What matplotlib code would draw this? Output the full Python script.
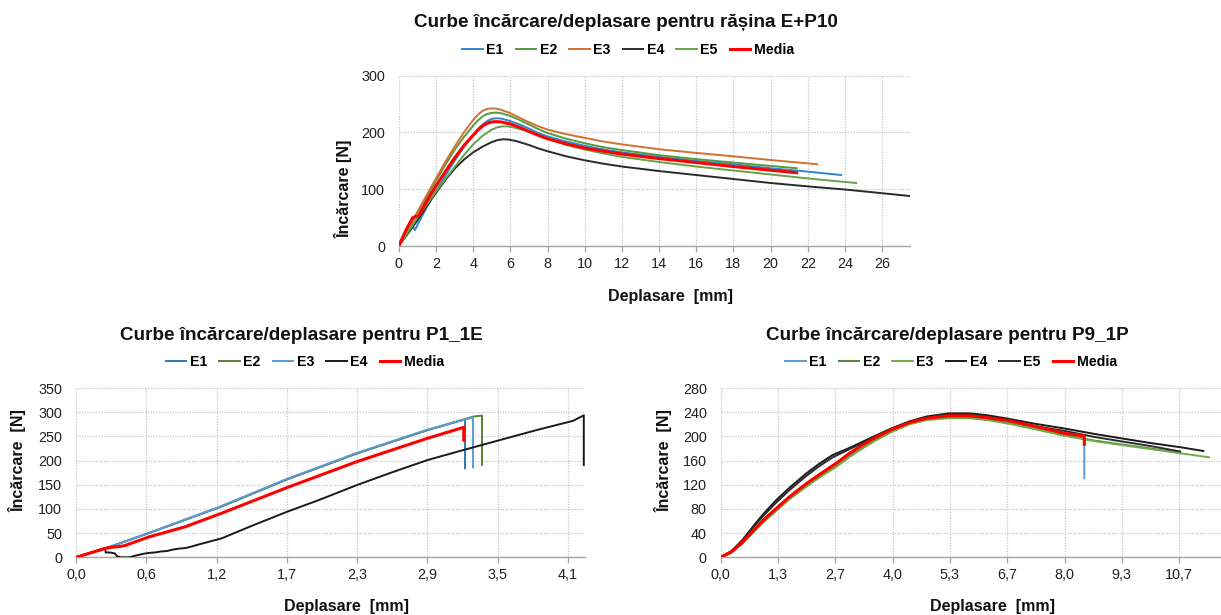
import matplotlib
matplotlib.use("Agg")
import matplotlib.pyplot as plt
from matplotlib.ticker import FuncFormatter, FixedLocator

plt.rcParams['font.family'] = ['Liberation Sans', 'DejaVu Sans']

# ---------------- Resin E+P10 ----------------
top_title = "Curbe încărcare/deplasare pentru rășina E+P10"
top_labels = ["E1", "E2", "E3", "E4", "E5", "Media"]
top_colors = ["#2F86CE", "#559A3E", "#D0712F", "#2A2A2A", "#66A348", "#FF0000"]

top_e1_x = [0, 0.6, 0.87, 1.05, 1.5, 2, 2.5, 3, 3.5, 4, 4.25, 4.5, 4.75, 5, 5.25, 5.5, 6, 6.5, 7, 7.5,
            8, 9, 10, 11, 12, 14, 16, 18, 20, 22, 23.8]
top_e1_y = [0, 42, 28, 40, 68, 97, 124, 150, 174, 196, 206, 214, 220, 224, 225, 224.5, 220, 214, 207, 199,
            193, 184, 176.5, 170, 165, 157, 150, 144, 137, 131, 125]

top_e2_x = [0, 1, 2, 2.5, 3, 3.5, 4, 4.25, 4.5, 4.75, 5, 5.25, 5.5, 6, 6.5, 7, 7.5, 8, 9, 10, 11, 12,
            14, 16, 18, 20, 21.4]
top_e2_y = [0, 58, 115, 143, 169, 192, 212, 221, 228, 232.5, 234.5, 235, 234, 229, 222, 214, 206, 199,
            189, 181, 174, 169, 160, 153, 147, 141, 137]

top_e3_x = [0, 1, 2, 2.5, 3, 3.5, 4, 4.25, 4.5, 4.75, 5, 5.25, 5.5, 6, 6.5, 7, 7.5, 8, 9, 10, 11, 12,
            14, 16, 18, 20, 22.5]
top_e3_y = [0, 60, 119, 148, 175, 200, 222, 231, 238, 241.5, 242.5, 242, 240, 234, 226, 218, 211, 205,
            197, 190.5, 184, 179, 170.5, 164, 158, 151.5, 144]

top_e4_x = [0, 1, 1.7, 2.5, 3, 3.5, 4, 4.5, 5, 5.3, 5.6, 5.9, 6.3, 7, 7.5, 8, 9, 10, 11, 12, 14, 16,
            18, 20, 22, 24, 26, 27.5]
top_e4_y = [0, 45, 80, 116, 136, 152, 165, 175, 183, 186.5, 188, 187.5, 185, 178, 172, 167, 158, 151,
            145, 140, 132, 125, 118, 111, 105, 99.5, 93, 88]

top_e5_x = [0, 1, 2, 2.5, 3, 3.5, 4, 4.5, 5, 5.3, 5.6, 5.9, 6.3, 7, 7.5, 8, 9, 10, 11, 12, 14, 16, 18,
            20, 22, 24.6]
top_e5_y = [0, 50, 96, 118, 139, 160, 179, 194, 205, 209, 211, 210.5, 208, 201, 195, 189, 178, 170,
            163, 157, 148, 140, 133, 126, 119, 111]

top_med_x = [0, 0.4, 0.75, 0.9, 1.05, 1.5, 2, 2.5, 3, 3.5, 4, 4.25, 4.5, 4.75, 5, 5.25, 5.5, 6, 6.5,
             7, 7.5, 8, 9, 10, 11, 12, 14, 16, 18, 20, 21.4]
top_med_y = [0, 29, 50, 52, 52, 79, 106, 131, 155, 177, 195, 204, 211, 216, 218.5, 219, 218.5, 215,
             209, 202, 195, 189, 180, 172.5, 167, 162, 154, 147, 140, 133.5, 129]

top_xticks = list(range(0, 27, 2))
top_yticks = [0, 100, 200, 300]
top_xlim = (0, 27.5)

# ---------------- P1_1E ----------------
bl_title = "Curbe încărcare/deplasare pentru P1_1E"
bl_labels = ["E1", "E2", "E3", "E4", "Media"]
bl_colors = ["#2E75B6", "#548235", "#5B9BD5", "#1A1A1A", "#FF0000"]

bl_e1_x = [0, 0.25, 0.6, 1.2, 1.74, 2.32, 2.9, 3.21, 3.21]
bl_e1_y = [0, 19, 50, 105, 161, 215, 263, 285, 184]

bl_e2_x = [0, 0.25, 0.6, 1.2, 1.74, 2.32, 2.9, 3.2, 3.28, 3.35, 3.35]
bl_e2_y = [0, 19, 50, 105, 161, 215, 263, 285, 291, 293, 191]

bl_e3_x = [0, 0.25, 0.6, 1.2, 1.74, 2.32, 2.9, 3.21, 3.276, 3.276]
bl_e3_y = [0, 19, 50, 106, 162, 216, 264, 285, 289, 186]

bl_e4_x = [0, 0.24, 0.245, 0.28, 0.32, 0.34, 0.37, 0.44, 0.5, 0.55, 0.6, 0.65, 0.7, 0.75, 0.8, 0.85,
           0.9, 0.95, 1.02, 1.2, 1.45, 1.74, 2.0, 2.32, 2.6, 2.9, 3.2, 3.5, 3.8, 4.1, 4.19, 4.19]
bl_e4_y = [0, 19, 10, 10, 8, 2, 0, 0, 4, 7, 9, 10, 12, 13, 16, 18,
           19, 22, 27, 39, 65, 94, 118, 149.5, 175, 201, 222, 242.5, 263, 282, 293.5, 191]

bl_med_x = [0, 0.25, 0.3, 0.35, 0.4, 0.6, 0.9, 1.2, 1.74, 2.32, 2.9, 3.2, 3.2]
bl_med_y = [0, 19, 21, 22, 24, 42, 63, 91, 144, 198, 246, 268.7, 242]

bl_xtick_step = 0.58
bl_xticks = [i * bl_xtick_step for i in range(8)]
bl_yticks = list(range(0, 351, 50))
bl_xlim = (0, 4.2)

# ---------------- P9_1P ----------------
br_title = "Curbe încărcare/deplasare pentru P9_1P"
br_labels = ["E1", "E2", "E3", "E4", "E5", "Media"]
br_colors = ["#5B9BD5", "#548235", "#70AD47", "#1A1A1A", "#2B2B2B", "#FF0000"]

br_e1_x = [0, 0.25, 0.5, 0.8, 1.0, 1.3, 1.6, 2.0, 2.3, 2.7, 3.0, 3.3, 3.6, 4.0, 4.4, 4.8, 5.3, 5.8,
           6.2, 6.7, 7.3, 8.0, 8.46, 8.46]
br_e1_y = [0, 8, 23, 45, 59, 78, 97, 118, 133, 151, 167, 181, 194, 209, 221, 228, 231, 231,
           228, 222, 213, 202, 196, 130.6]

br_e2_x = [0, 0.25, 0.5, 0.8, 1.0, 1.3, 1.6, 2.0, 2.3, 2.7, 3.0, 3.3, 3.6, 4.0, 4.4, 4.8, 5.3, 5.8,
           6.2, 6.7, 7.3, 8.0, 8.7, 9.3, 10.0, 10.62]
br_e2_y = [0, 8, 23, 45, 59, 78, 97, 118, 133, 151, 167, 181, 194, 209, 221, 228, 231, 231,
           228, 222, 213, 202, 193, 187, 180, 173.5]

br_e3_x = [0, 0.25, 0.5, 0.8, 1.0, 1.3, 1.6, 2.0, 2.3, 2.7, 3.0, 3.3, 3.6, 4.0, 4.4, 4.8, 5.3, 5.8,
           6.2, 6.7, 7.3, 8.0, 8.7, 9.3, 10.0, 10.7, 11.36]
br_e3_y = [0, 8, 22, 44, 58, 77, 96, 117, 132, 150, 166, 180, 193, 208, 220, 227, 230, 230,
           227, 221, 212, 201, 192, 186, 179, 172, 165.4]

br_e4_x = [0, 0.25, 0.5, 0.8, 1.0, 1.3, 1.6, 2.0, 2.3, 2.6, 2.8, 3.0, 3.3, 3.6, 4.0, 4.4, 4.8, 5.3,
           5.8, 6.2, 6.7, 7.3, 8.0, 8.7, 9.3, 10.0, 10.7, 11.23]
br_e4_y = [0, 10, 28, 55, 72, 95, 115, 139, 155, 169, 175, 181, 191, 201, 214, 225, 233, 238,
           238, 235, 229, 221, 213, 204, 197, 189, 182, 175.8]

br_e5_x = [0, 0.25, 0.5, 0.8, 1.0, 1.3, 1.6, 2.0, 2.3, 2.6, 2.8, 3.0, 3.3, 3.6, 4.0, 4.4, 4.8, 5.3,
           5.8, 6.2, 6.7, 7.3, 8.0, 8.7, 9.3, 10.0, 10.69]
br_e5_y = [0, 10, 27, 53, 69, 91, 111, 135, 151, 165, 172, 179, 189, 199, 212, 223, 231, 236,
           236, 233, 226, 217, 209, 199, 192, 184, 175]

br_med_x = [0, 0.25, 0.5, 0.8, 1.0, 1.3, 1.6, 2.0, 2.3, 2.7, 3.0, 3.3, 3.6, 4.0, 4.4, 4.8, 5.3, 5.8,
            6.2, 6.7, 7.3, 8.0, 8.46, 8.46]
br_med_y = [0, 9, 24, 47, 62, 81, 100, 122, 137, 156, 172, 186, 198, 212, 223, 230, 234, 234,
            231, 226, 217, 205, 200.6, 187]

br_xtick_step = 4 / 3
br_xticks = [i * br_xtick_step for i in range(9)]
br_yticks = list(range(0, 281, 40))
br_xlim = (0, 11.64)

# ---------------- drawing ----------------
W, H = 1221, 615
fig = plt.figure(figsize=(W / 100, H / 100), dpi=100)

GRID = "#C4C4C4"
AXIS = "#A6A6A6"
TICK_FS = 10.4
TITLE_FS = 13.6
LEG_FS = 10.2
LAB_FS = 11.5


def px_axes(x0, y0, x1, y1):
    return fig.add_axes([x0 / W, 1 - y1 / H, (x1 - x0) / W, (y1 - y0) / H])


def comma1(v, _):
    return f"{v:.1f}".replace(".", ",")


def style(ax, xticks, yticks, xlim, ylim, xfmt):
    ax.set_xlim(*xlim)
    ax.set_ylim(*ylim)
    ax.xaxis.set_major_locator(FixedLocator(xticks))
    ax.yaxis.set_major_locator(FixedLocator(yticks))
    ax.xaxis.set_major_formatter(FuncFormatter(xfmt))
    ax.yaxis.set_major_formatter(FuncFormatter(lambda v, _: f"{v:.0f}"))
    for s in ("top", "right", "left"):
        ax.spines[s].set_visible(False)
    ax.spines["bottom"].set_color(AXIS)
    ax.spines["bottom"].set_linewidth(1.0)
    ax.grid(True, color=GRID, linestyle=(0, (1, 1.2)), linewidth=0.9)
    ax.set_axisbelow(True)
    ax.tick_params(axis="x", direction="out", length=4, width=0.9, color=AXIS,
                   pad=4, labelsize=TICK_FS, labelcolor="#222222")
    ax.tick_params(axis="y", length=0, pad=10, labelsize=TICK_FS, labelcolor="#222222")
    ax.patch.set_alpha(0)


def draw(ax, series, labels, colors):
    handles = []
    for (x, y), lab, c in zip(series, labels, colors):
        lw = 2.2 if lab == "Media" else 1.4
        h, = ax.plot(x, y, color=c, lw=lw, label=lab, solid_joinstyle="round", zorder=3)
        handles.append(h)
    return handles


def legend(ax, handles, cx, cy):
    ax.legend(handles=handles, loc="center", bbox_to_anchor=(cx / W, 1 - cy / H),
              bbox_transform=fig.transFigure, ncol=len(handles), frameon=False,
              prop={"weight": "bold", "size": LEG_FS}, handlelength=1.45,
              handletextpad=0.25, columnspacing=0.85, borderaxespad=0, borderpad=0)


def text(x, y, s, size, **kw):
    fig.text(x / W, 1 - y / H, s, fontsize=size, fontweight="bold", color="#111111", **kw)


# Top chart
ax1 = px_axes(398.8, 75.7, 910, 246)
style(ax1, top_xticks, top_yticks, top_xlim, (0, 300), lambda v, _: f"{v:.0f}")
h1 = draw(ax1, [(top_e1_x, top_e1_y), (top_e2_x, top_e2_y), (top_e3_x, top_e3_y),
                (top_e4_x, top_e4_y), (top_e5_x, top_e5_y), (top_med_x, top_med_y)],
          top_labels, top_colors)
legend(ax1, h1, 628, 50)
text(626, 26.7, top_title, TITLE_FS, ha="center", va="baseline")
text(670, 296, "Deplasare  [mm]", LAB_FS, ha="center", va="center")
text(344, 189, "Încărcare [N]", LAB_FS, ha="center", va="center", rotation=90)

# Bottom-left chart
ax2 = px_axes(76, 388, 585, 557.3)
style(ax2, bl_xticks, bl_yticks, bl_xlim, (0, 350), comma1)
h2 = draw(ax2, [(bl_e1_x, bl_e1_y), (bl_e2_x, bl_e2_y), (bl_e3_x, bl_e3_y),
                (bl_e4_x, bl_e4_y), (bl_med_x, bl_med_y)], bl_labels, bl_colors)
legend(ax2, h2, 305, 362)
text(301, 340, bl_title, TITLE_FS, ha="center", va="baseline")
text(347, 606, "Deplasare  [mm]", LAB_FS, ha="center", va="center")
text(18, 461, "Încărcare  [N]", LAB_FS, ha="center", va="center", rotation=90)

# Bottom-right chart
ax3 = px_axes(720.6, 388, 1221, 557.3)
style(ax3, br_xticks, br_yticks, br_xlim, (0, 280), comma1)
h3 = draw(ax3, [(br_e1_x, br_e1_y), (br_e2_x, br_e2_y), (br_e3_x, br_e3_y),
                (br_e4_x, br_e4_y), (br_e5_x, br_e5_y), (br_med_x, br_med_y)],
          br_labels, br_colors)
legend(ax3, h3, 951, 362)
text(947, 340, br_title, TITLE_FS, ha="center", va="baseline")
text(993, 606, "Deplasare  [mm]", LAB_FS, ha="center", va="center")
text(664, 461, "Încărcare  [N]", LAB_FS, ha="center", va="center", rotation=90)

fig.savefig("out.png", dpi=100, facecolor="white")
